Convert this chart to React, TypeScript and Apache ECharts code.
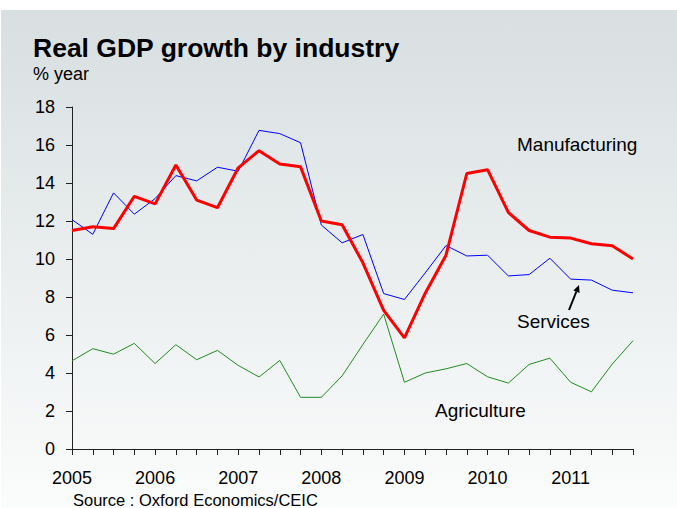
import React, { useEffect, useRef } from "react";
import * as echarts from "echarts";

const quarters: string[] = [];
for (let y = 2005; y <= 2011; y++) for (let q = 1; q <= 4; q++) quarters.push(`${y}Q${q}`);

const manufacturing = [11.5, 11.7, 11.6, 13.3, 12.9, 14.95, 13.1, 12.7, 14.8, 15.7, 15.0, 14.85, 12.0, 11.8, 9.8, 7.3, 5.85, 8.2, 10.2, 14.5, 14.7, 12.45, 11.5, 11.15, 11.1, 10.8, 10.7, 10.0];
const services = [12.07, 11.3, 13.48, 12.36, 13.18, 14.39, 14.11, 14.83, 14.62, 16.77, 16.6, 16.12, 11.79, 10.85, 11.29, 8.18, 7.87, 9.27, 10.71, 10.16, 10.2, 9.11, 9.18, 10.04, 8.94, 8.89, 8.36, 8.22];
const agriculture = [4.64, 5.28, 4.99, 5.56, 4.5, 5.49, 4.7, 5.19, 4.4, 3.79, 4.66, 2.72, 2.72, 3.85, 5.5, 7.1, 3.51, 4.0, 4.22, 4.5, 3.8, 3.47, 4.45, 4.78, 3.51, 3.01, 4.47, 5.7];

const FONT = "'Liberation Sans', Arial, sans-serif";

export default function App() {
  const ref = useRef<HTMLDivElement>(null);
  useEffect(() => {
    if (!ref.current) return;
    const chart = echarts.init(ref.current, null, { renderer: "svg" });
    chart.setOption({
      animation: false,
      textStyle: { fontFamily: FONT },
      title: {
        text: "Real GDP growth by industry",
        subtext: "% year",
        left: 33,
        top: 35,
        padding: 0,
        itemGap: 3,
        textStyle: { fontSize: 26.5, fontWeight: "bold", color: "#000", lineHeight: 26, fontFamily: FONT },
        subtextStyle: { fontSize: 18, color: "#000", lineHeight: 18, fontFamily: FONT },
      },
      graphic: [
        {
          type: "rect",
          z: -10,
          shape: { x: 1, y: 10, width: 676, height: 498 },
          style: {
            fill: new echarts.graphic.LinearGradient(0, 0, 0, 1, [
              { offset: 0, color: "#d8dfe1" },
              { offset: 1, color: "#fbfcfc" },
            ]),
          },
        },
        {
          type: "text",
          x: 517, y: 144.5,
          style: { text: "Manufacturing", font: `19px ${FONT}`, fill: "#000", textVerticalAlign: "middle", verticalAlign: "middle" },
        },
        {
          type: "text",
          x: 517, y: 321.5,
          style: { text: "Services", font: `19px ${FONT}`, fill: "#000", textVerticalAlign: "middle", verticalAlign: "middle" },
        },
        {
          type: "text",
          x: 435, y: 410,
          style: { text: "Agriculture", font: `19px ${FONT}`, fill: "#000", textVerticalAlign: "middle", verticalAlign: "middle" },
        },
        {
          type: "text",
          x: 73, y: 500,
          style: { text: "Source : Oxford Economics/CEIC", font: `16.5px ${FONT}`, fill: "#000", textVerticalAlign: "middle", verticalAlign: "middle" },
        },
        {
          type: "line",
          shape: { x1: 569, y1: 310, x2: 576.4, y2: 291.5 },
          style: { stroke: "#000", lineWidth: 2 },
        },
        {
          type: "polygon",
          shape: { points: [[579, 285], [579.6, 293], [573.4, 290.4]] },
          style: { fill: "#000" },
        },
      ],
      grid: { left: 72, top: 107, right: 44, bottom: 59, containLabel: false },
      xAxis: {
        type: "category",
        data: quarters,
        boundaryGap: false,
        axisLine: { lineStyle: { color: "#222", width: 1 } },
        axisTick: { show: true, length: 6, interval: 0, lineStyle: { color: "#222" } },
        axisLabel: {
          interval: (i: number) => i % 4 === 0,
          margin: 20,
          fontSize: 18,
          color: "#000",
          fontFamily: FONT,
          formatter: (v: string) => v.slice(0, 4),
        },
        splitLine: { show: false },
      },
      yAxis: {
        type: "value",
        min: 0,
        max: 18,
        interval: 2,
        axisLine: { show: true, lineStyle: { color: "#222", width: 1 } },
        axisTick: { show: true, length: 6, lineStyle: { color: "#222" } },
        axisLabel: { fontSize: 18, color: "#000", margin: 17, fontFamily: FONT },
        splitLine: { show: false },
      },
      series: [
        {
          name: "Agriculture",
          type: "line",
          data: agriculture,
          symbol: "none",
          lineStyle: { color: "#228b22", width: 1 },
        },
        {
          name: "Services",
          type: "line",
          data: services,
          symbol: "none",
          lineStyle: { color: "#0000ff", width: 1 },
        },
        {
          name: "Manufacturing",
          type: "line",
          data: manufacturing,
          symbol: "none",
          lineStyle: { color: "#ff0000", width: 3 },
        },
      ],
    });
    return () => chart.dispose();
  }, []);
  return (
    <div
      ref={ref}
      style={{ position: "fixed", left: 0, top: 0, width: 677, height: 508, background: "#fff" }}
    />
  );
}
